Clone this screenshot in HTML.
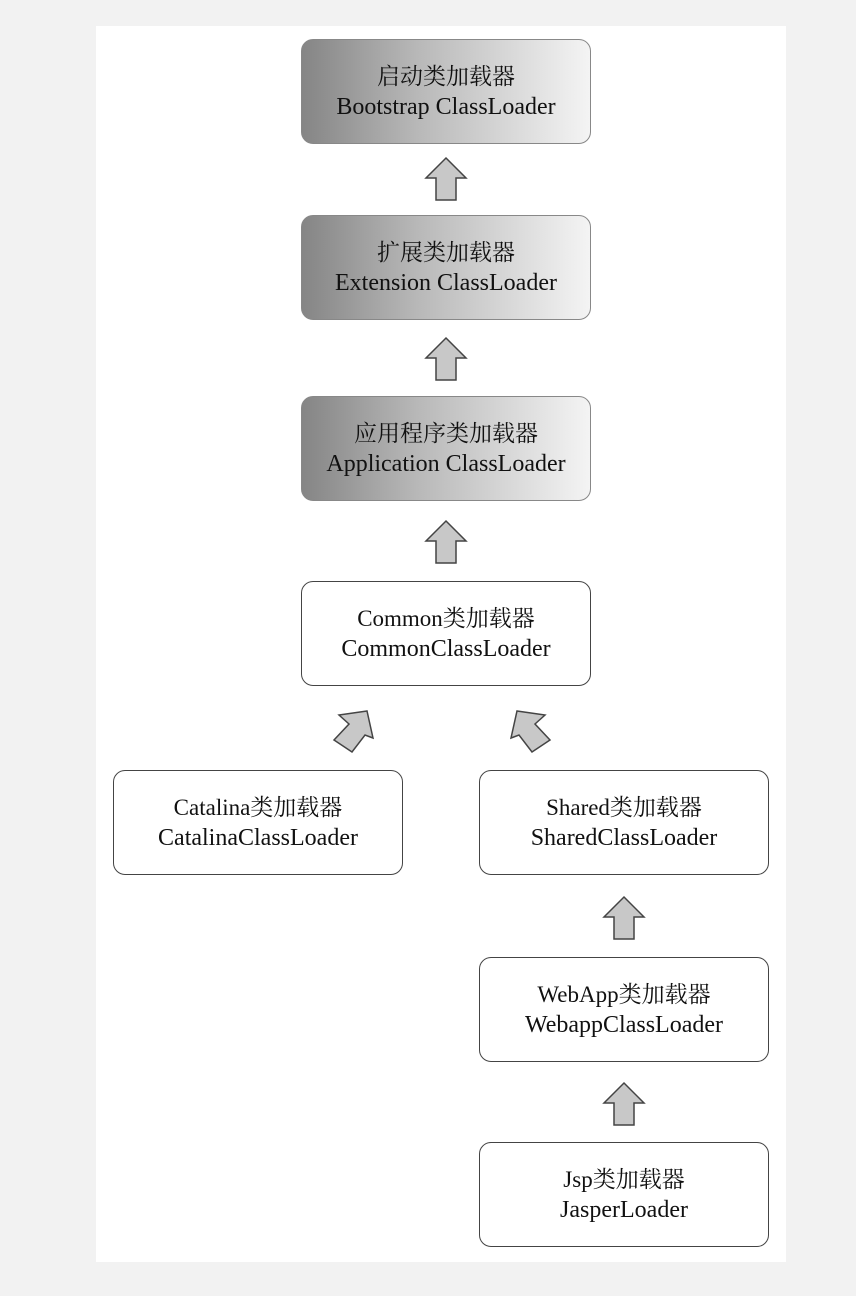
<!DOCTYPE html>
<html><head><meta charset="utf-8"><style>
body{margin:0;background:#f2f2f2;width:856px;height:1296px;position:relative;overflow:hidden;font-family:"Liberation Serif","Noto Serif CJK SC",serif;}
.panel{position:absolute;left:96px;top:26px;width:690px;height:1236px;background:#fff;}
.b{position:absolute;width:290px;height:105px;border:1.5px solid #444;border-radius:12px;box-sizing:border-box;display:flex;flex-direction:column;justify-content:center;align-items:center;text-align:center;font-size:24px;line-height:31px;color:#111;background:#fff;}
.b span{display:block;}
.b span:first-child{font-size:23px;}
.g{background:linear-gradient(to right,#858585,#b8b8b8 40%,#f4f4f4);border-color:#888;}
svg{position:absolute;left:0;top:0;}
</style></head><body>
<div class="panel"></div>
<div class="b g" style="left:301px;top:39px"><span>启动类加载器</span><span>Bootstrap ClassLoader</span></div>
<div class="b g" style="left:301px;top:215px"><span>扩展类加载器</span><span>Extension ClassLoader</span></div>
<div class="b g" style="left:301px;top:396px"><span>应用程序类加载器</span><span>Application ClassLoader</span></div>
<div class="b" style="left:301px;top:581px"><span>Common类加载器</span><span>CommonClassLoader</span></div>
<div class="b" style="left:113px;top:770px"><span>Catalina类加载器</span><span>CatalinaClassLoader</span></div>
<div class="b" style="left:479px;top:770px"><span>Shared类加载器</span><span>SharedClassLoader</span></div>
<div class="b" style="left:479px;top:957px"><span>WebApp类加载器</span><span>WebappClassLoader</span></div>
<div class="b" style="left:479px;top:1142px"><span>Jsp类加载器</span><span>JasperLoader</span></div>
<svg width="856" height="1296">
<defs><polygon id="a" points="0,-21 20,-1 10,-1 10,21 -10,21 -10,-1 -20,-1" fill="#c8c8c8" stroke="#444" stroke-width="1.5"/></defs>
<use href="#a" transform="translate(446,179)"/>
<use href="#a" transform="translate(446,359)"/>
<use href="#a" transform="translate(446,542)"/>
<use href="#a" transform="translate(624,918)"/>
<use href="#a" transform="translate(624,1104)"/>
<polygon points="367,711 339,715 349,724 334,740 352,752 365,735 373,738" fill="#c8c8c8" stroke="#444" stroke-width="1.5"/>
<polygon points="517,711 545,715 535,724 550,740 532,752 519,735 511,738" fill="#c8c8c8" stroke="#444" stroke-width="1.5"/>
</svg>
</body></html>
